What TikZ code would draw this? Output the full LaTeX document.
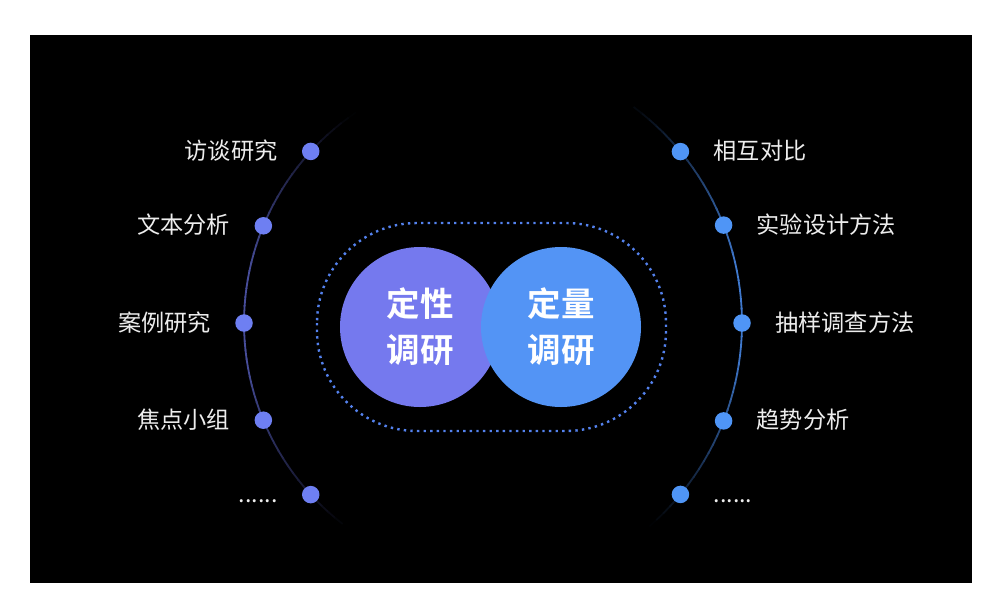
\documentclass[tikz,border=0pt]{standalone}
\usepackage{fontspec}
\setmainfont{Noto Sans CJK SC}[BoldFont={Noto Sans CJK SC Bold}]
\usetikzlibrary{calc}
\definecolor{bigL}{HTML}{7579EE}
\definecolor{bigR}{HTML}{5394F5}
\definecolor{dotL}{HTML}{6E7FF2}
\definecolor{dotR}{HTML}{4F95F6}
\definecolor{arcL}{HTML}{474D9A}
\definecolor{arcR}{HTML}{3F78CC}
\definecolor{dashc}{HTML}{5482EE}
\definecolor{lbltxt}{HTML}{EDEDED}
\begin{document}
\begin{tikzpicture}[x=1pt,y=-1pt,
  lbl/.style={text=lbltxt, font=\fontsize{23.2}{27}\selectfont, inner sep=0pt},
  ldot/.style={circle, fill=dotL, minimum size=17.5pt, inner sep=0pt},
  rdot/.style={circle, fill=dotR, minimum size=17.5pt, inner sep=0pt},
  big/.style={circle, minimum size=160pt, inner sep=0pt, text=white,
    font=\bfseries\fontsize{33.5}{46}\selectfont, align=center},
  ring/.style={draw=dashc, line width=2.4pt, dash pattern=on 2.4pt off 4.2pt, rounded corners=100pt}]
\useasboundingbox (0,0) rectangle (1000,611);
\fill[white] (0,0) rectangle (1000,611);
\fill[black] (30,35) rectangle (972,583);
% left arc, fading at both ends
\foreach \a in {124,126,...,230} {
  \pgfmathtruncatemacro\pc{100*min(1,min((\a-123)/44,(233-\a)/44))}
  \draw[line width=1.8pt, color=arcL!\pc!black]
    ({498+254*cos(\a)},{323-254*sin(\a)}) -- ({498+254*cos(\a+2.3)},{323-254*sin(\a+2.3)});
}
% right arc, fading at both ends
\foreach \a in {-49,-47,...,51} {
  \pgfmathtruncatemacro\pc{100*min(1,min((\a+50)/42,(54-\a)/42))}
  \draw[line width=1.8pt, color=arcR!\pc!black]
    ({472.5+269.5*cos(\a)},{323-269.5*sin(\a)}) -- ({472.5+269.5*cos(\a+2.3)},{323-269.5*sin(\a+2.3)});
}
% dotted ring
\draw[ring] (317,223) rectangle (666,431);
% big circles
\node[big, fill=bigL] (qual) at (420,327) {定性\\调研};
\node[big, fill=bigR] (quant) at (561,327) {定量\\调研};
% left dots
\node[ldot] (l1) at ({498+254*cos(137.5)},{323-254*sin(137.5)}) {};
\node[ldot] (l2) at ({498+254*cos(157.5)},{323-254*sin(157.5)}) {};
\node[ldot] (l3) at ({498+254*cos(180)},{323-254*sin(180)}) {};
\node[ldot] (l4) at ({498+254*cos(202.5)},{323-254*sin(202.5)}) {};
\node[ldot] (l5) at ({498+254*cos(222.5)},{323-254*sin(222.5)}) {};
% right dots
\node[rdot] (r1) at ({472.5+269.5*cos(39.5)},{323-269.5*sin(39.5)}) {};
\node[rdot] (r2) at ({472.5+269.5*cos(21.3)},{323-269.5*sin(21.3)}) {};
\node[rdot] (r3) at ({472.5+269.5*cos(0)},{323-269.5*sin(0)}) {};
\node[rdot] (r4) at ({472.5+269.5*cos(-21.3)},{323-269.5*sin(-21.3)}) {};
\node[rdot] (r5) at ({472.5+269.5*cos(-39.5)},{323-269.5*sin(-39.5)}) {};
% left labels
\node[lbl, anchor=base east] (tl1) at ($(l1)+(-33,8)$) {访谈研究};
\node[lbl, anchor=base east] (tl2) at ($(l2)+(-33,8)$) {文本分析};
\node[lbl, anchor=base east] (tl3) at ($(l3)+(-33,8)$) {案例研究};
\node[lbl, anchor=base east] (tl4) at ($(l4)+(-33,8)$) {焦点小组};
\node[lbl, anchor=base east] (tl5) at ($(l5)+(-33,8)$) {......};
% right labels
\node[lbl, anchor=base west] (tr1) at ($(r1)+(33,8)$) {相互对比};
\node[lbl, anchor=base west] (tr2) at ($(r2)+(33,8)$) {实验设计方法};
\node[lbl, anchor=base west] (tr3) at ($(r3)+(33,8)$) {抽样调查方法};
\node[lbl, anchor=base west] (tr4) at ($(r4)+(33,8)$) {趋势分析};
\node[lbl, anchor=base west] (tr5) at ($(r5)+(33,8)$) {......};
\end{tikzpicture}
\end{document}
